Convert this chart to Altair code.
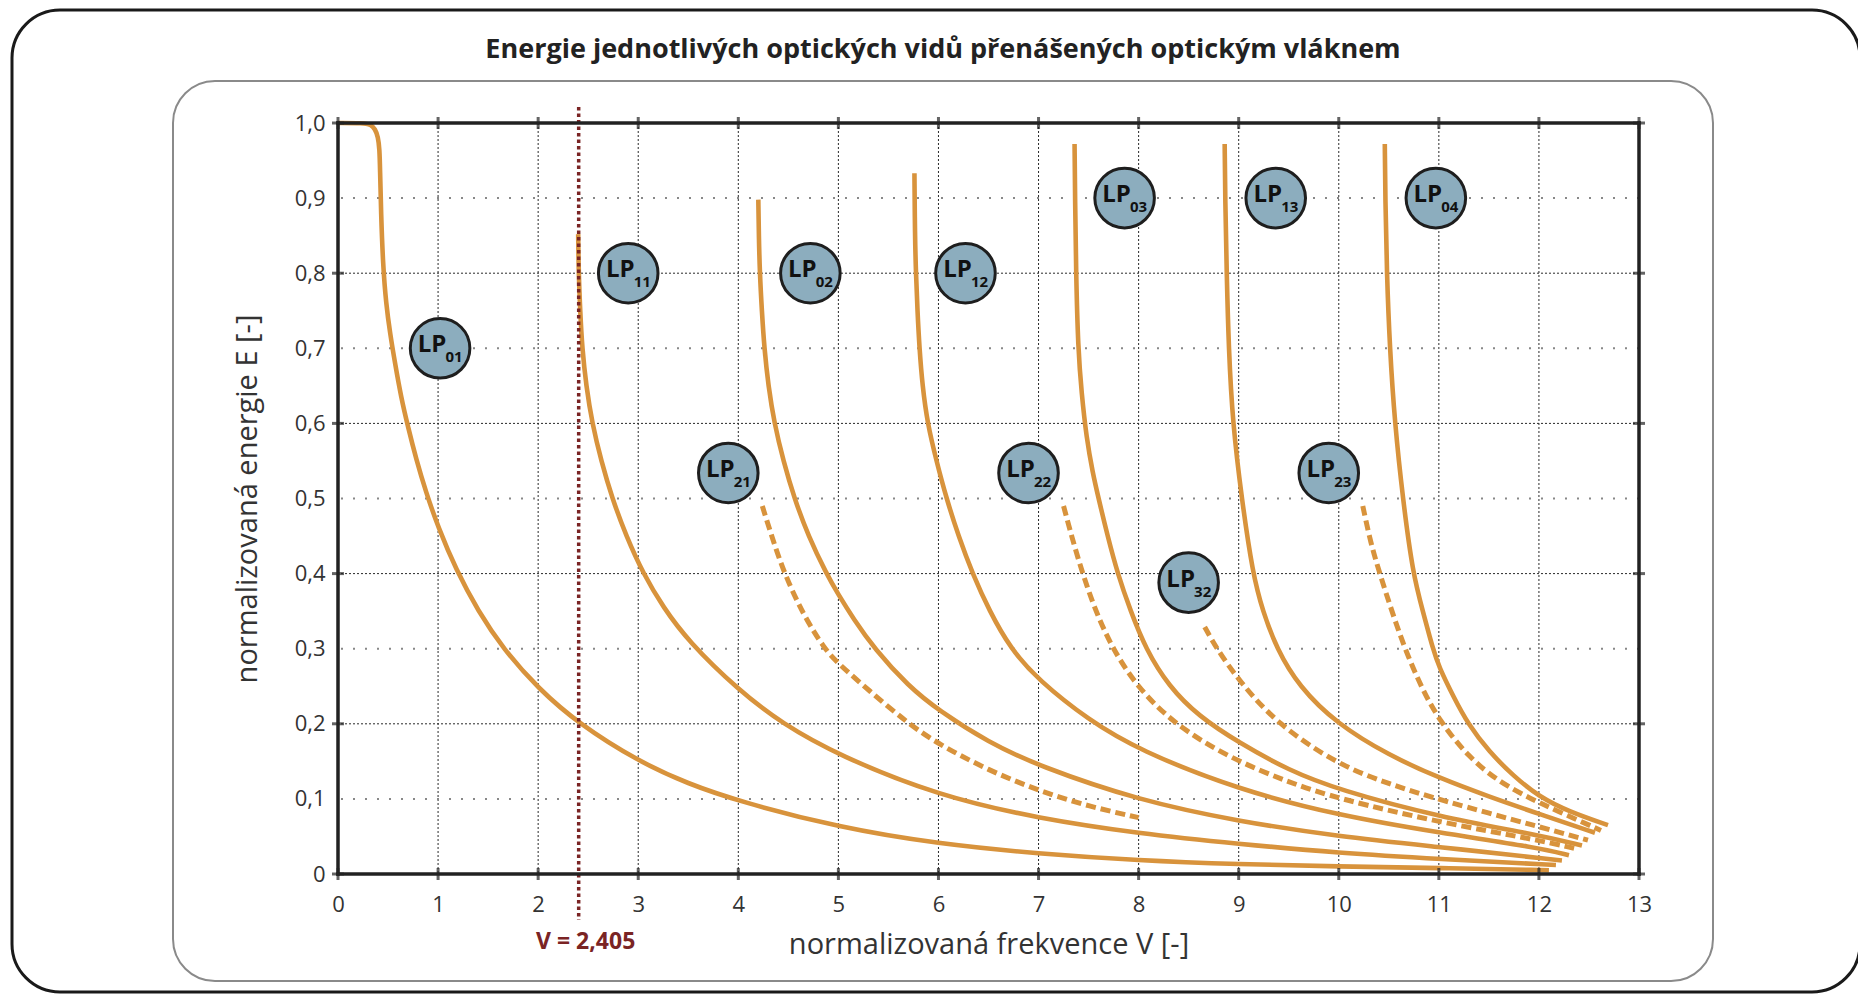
import altair as alt
import pandas as pd

# ---------------- data ----------------
TITLE = "Energie jednotlivých optických vidů přenášených optickým vláknem"
X_TITLE = "normalizovaná frekvence V [-]"
Y_TITLE = "normalizovaná energie E [-]"

x_ticks = list(range(0, 14))
y_ticks = [0.0, 0.1, 0.2, 0.3, 0.4, 0.5, 0.6, 0.7, 0.8, 0.9, 1.0]
y_major = [0.0, 0.2, 0.4, 0.6, 0.8, 1.0]
grid_x = list(range(1, 13))
grid_y_dense = [0.2, 0.4, 0.6, 0.8]
grid_y_sparse = [0.1, 0.3, 0.5, 0.7, 0.9]

v_cut = 2.405
v_label = "V = 2,405"

# solid curves
lp01_x = [0, 0.25, 0.33, 0.37, 0.40, 0.415, 0.42, 0.43, 0.45, 0.48, 0.52, 0.57, 0.63, 0.70, 0.78, 0.88, 1.0, 1.18, 1.4, 1.65, 2.0, 2.405, 3.0, 3.5, 4.0, 5.0, 6.0, 7.0, 8.0, 9.0, 10.0, 11.0, 12.1]
lp01_y = [1.0, 1.0, 0.998, 0.992, 0.982, 0.965, 0.94, 0.88, 0.81, 0.76, 0.72, 0.68, 0.635, 0.595, 0.553, 0.508, 0.462, 0.405, 0.35, 0.30, 0.247, 0.20, 0.15, 0.12, 0.097, 0.062, 0.04, 0.027, 0.018, 0.013, 0.01, 0.008, 0.005]

lp11_x = [2.40, 2.405, 2.42, 2.44, 2.48, 2.54, 2.63, 2.74, 2.88, 3.05, 3.25, 3.5, 4.0, 4.44, 5.0, 6.0, 7.0, 8.0, 9.0, 10.0, 11.0, 12.17]
lp11_y = [0.852, 0.80, 0.75, 0.70, 0.65, 0.60, 0.55, 0.50, 0.45, 0.40, 0.355, 0.31, 0.245, 0.20, 0.158, 0.104, 0.074, 0.054, 0.04, 0.028, 0.02, 0.012]

lp02_x = [4.20, 4.205, 4.215, 4.235, 4.26, 4.30, 4.36, 4.45, 4.56, 4.70, 4.88, 5.0, 5.15, 5.36, 5.7, 6.0, 6.5, 7.0, 8.0, 9.0, 10.0, 11.0, 12.23]
lp02_y = [0.898, 0.85, 0.80, 0.75, 0.70, 0.65, 0.60, 0.55, 0.50, 0.45, 0.40, 0.372, 0.34, 0.30, 0.25, 0.218, 0.175, 0.144, 0.098, 0.07, 0.05, 0.036, 0.018]

lp12_x = [5.76, 5.765, 5.775, 5.79, 5.81, 5.84, 5.89, 5.98, 6.08, 6.20, 6.34, 6.51, 6.72, 7.0, 7.5, 8.0, 9.0, 10.0, 11.0, 12.0, 12.30]
lp12_y = [0.933, 0.85, 0.80, 0.75, 0.70, 0.65, 0.60, 0.55, 0.50, 0.45, 0.40, 0.35, 0.30, 0.258, 0.205, 0.165, 0.112, 0.078, 0.055, 0.035, 0.025]

lp03_x = [7.36, 7.365, 7.375, 7.395, 7.43, 7.48, 7.54, 7.60, 7.69, 7.79, 7.92, 8.07, 8.3, 8.6, 9.0, 9.5, 10.0, 11.0, 12.0, 12.43]
lp03_y = [0.972, 0.90, 0.80, 0.70, 0.64, 0.58, 0.535, 0.50, 0.45, 0.40, 0.35, 0.30, 0.25, 0.21, 0.175, 0.138, 0.112, 0.076, 0.052, 0.038]

lp13_x = [8.86, 8.865, 8.88, 8.90, 8.94, 9.03, 9.14, 9.24, 9.38, 9.6, 9.98, 10.5, 11.0, 11.5, 12.0, 12.56]
lp13_y = [0.972, 0.90, 0.80, 0.70, 0.60, 0.50, 0.40, 0.35, 0.30, 0.25, 0.20, 0.158, 0.128, 0.103, 0.08, 0.055]

lp04_x = [10.46, 10.465, 10.48, 10.51, 10.56, 10.64, 10.74, 10.84, 10.94, 11.0, 11.15, 11.29, 11.5, 11.75, 12.0, 12.3, 12.69]
lp04_y = [0.972, 0.90, 0.80, 0.70, 0.60, 0.50, 0.40, 0.35, 0.30, 0.276, 0.235, 0.20, 0.163, 0.13, 0.103, 0.083, 0.065]

# dashed curves
lp21_x = [4.24, 4.34, 4.46, 4.65, 4.86, 5.0, 5.3, 5.7, 6.0, 6.5, 7.0, 7.5, 8.0]
lp21_y = [0.49, 0.447, 0.40, 0.345, 0.30, 0.28, 0.245, 0.20, 0.173, 0.138, 0.111, 0.09, 0.075]

lp22_x = [7.25, 7.33, 7.44, 7.57, 7.74, 7.98, 8.35, 8.9, 9.5, 10.0, 11.0, 12.0, 12.36]
lp22_y = [0.49, 0.45, 0.40, 0.35, 0.30, 0.25, 0.20, 0.155, 0.122, 0.10, 0.069, 0.045, 0.034]

lp32_x = [8.66, 8.78, 9.0, 9.38, 10.0, 10.5, 11.0, 12.0, 12.49]
lp32_y = [0.329, 0.30, 0.258, 0.20, 0.145, 0.12, 0.099, 0.063, 0.045]

lp23_x = [10.24, 10.32, 10.41, 10.53, 10.66, 10.82, 11.0, 11.3, 11.6, 11.92, 12.2, 12.62]
lp23_y = [0.49, 0.44, 0.40, 0.35, 0.30, 0.25, 0.205, 0.155, 0.123, 0.10, 0.083, 0.058]

solid_modes = {"LP01": (lp01_x, lp01_y), "LP11": (lp11_x, lp11_y), "LP02": (lp02_x, lp02_y),
               "LP12": (lp12_x, lp12_y), "LP03": (lp03_x, lp03_y), "LP13": (lp13_x, lp13_y),
               "LP04": (lp04_x, lp04_y)}
dashed_modes = {"LP21": (lp21_x, lp21_y), "LP22": (lp22_x, lp22_y),
                "LP32": (lp32_x, lp32_y), "LP23": (lp23_x, lp23_y)}

# mode labels
label_sub = ["01", "11", "02", "12", "03", "13", "04", "21", "22", "23", "32"]
label_x = [1.02, 2.90, 4.72, 6.27, 7.86, 9.37, 10.97, 3.90, 6.90, 9.90, 8.50]
label_y = [0.70, 0.80, 0.80, 0.80, 0.90, 0.90, 0.90, 0.534, 0.534, 0.534, 0.388]

# ---------------- build tables ----------------
def curves_df(modes):
    rows = []
    for name, (xs_, ys_) in modes.items():
        for i, (a, b) in enumerate(zip(xs_, ys_)):
            rows.append({"mode": name, "i": i, "x": a, "y": b})
    return pd.DataFrame(rows)

solid_df = curves_df(solid_modes)
dashed_df = curves_df(dashed_modes)
labels_df = pd.DataFrame({"x": label_x, "y": label_y, "sub": label_sub})
xtick_df = pd.DataFrame([{"x": a, "y": b} for a in x_ticks for b in [0.0, 1.0]])
ytick_df = pd.DataFrame([{"x": a, "y": b} for a in [0, 13] for b in y_major])
gx_df = pd.DataFrame({"x": grid_x})
gyd_df = pd.DataFrame({"y": grid_y_dense})
gys_df = pd.DataFrame({"y": grid_y_sparse})
edge_x_df = pd.DataFrame({"x": [0, 13]})
edge_y_df = pd.DataFrame({"y": [0.0, 1.0]})
vline_df = pd.DataFrame({"x": [v_cut], "t": [v_label]})
one_df = pd.DataFrame({"t": [TITLE]})

W, H = 1301, 751
ORANGE = "#d8933c"
FONT = "Open Sans"
MAROON = "#7a2424"

xs = alt.Scale(domain=[0, 13], nice=False, zero=False)
ys = alt.Scale(domain=[0, 1], nice=False, zero=False)

xaxis = alt.Axis(values=x_ticks, format="d", title=X_TITLE, grid=False, domain=False, ticks=False,
                 labelFont=FONT, labelFontSize=22, labelColor="#333", labelPadding=30,
                 labelBaseline="middle", labelFlush=False, labelOverlap=False,
                 titleFont=FONT, titleFontSize=29, titleFontWeight="normal", titleColor="#333",
                 titleX=650.5, titleY=70, titleBaseline="middle", titleAlign="center")
yaxis = alt.Axis(values=y_ticks, title=Y_TITLE, grid=False, domain=False, ticks=False,
                 labelExpr="datum.value == 0 ? '0' : replace(format(datum.value, '.1f'), '.', ',')",
                 labelFont=FONT, labelFontSize=22, labelColor="#333", labelPadding=13,
                 labelBaseline="middle", labelFlush=False, labelOverlap=False,
                 titleFont=FONT, titleFontSize=29, titleFontWeight="normal", titleColor="#333",
                 titleX=-91, titleY=375.5, titleAngle=270, titleBaseline="middle", titleAlign="center")

X = lambda f="x": alt.X(f"{f}:Q", scale=xs, axis=xaxis)
Y = lambda f="y": alt.Y(f"{f}:Q", scale=ys, axis=yaxis)

outer = alt.Chart(one_df).mark_rect(fill="white", fillOpacity=0, stroke="#1a1a1a", strokeWidth=3,
                                    cornerRadius=48).encode(
    x=alt.value(-326), x2=alt.value(1522), y=alt.value(-113), y2=alt.value(869))
inner = alt.Chart(one_df).mark_rect(fill="white", fillOpacity=0, stroke="#8a8a8a", strokeWidth=2,
                                    cornerRadius=42).encode(
    x=alt.value(-165), x2=alt.value(1375), y=alt.value(-42), y2=alt.value(858))

title = alt.Chart(one_df).mark_text(font=FONT, fontWeight="bold", fontSize=27, color="#222",
                                    align="center", baseline="middle").encode(
    x=alt.value(605), y=alt.value(-73), text="t:N")

gx = alt.Chart(gx_df).mark_rule(color="#2a2a2a", strokeWidth=1, strokeDash=[2, 2]).encode(x=X())
gyd = alt.Chart(gyd_df).mark_rule(color="#2a2a2a", strokeWidth=1, strokeDash=[2, 2]).encode(y=Y())
gys = alt.Chart(gys_df).mark_rule(color="#888", strokeWidth=2, strokeDash=[2, 10]).encode(y=Y())

solid = alt.Chart(solid_df).mark_line(color=ORANGE, strokeWidth=4.6, interpolate="basis").encode(
    x=X(), y=Y(), detail="mode:N", order="i:Q")
dashed = alt.Chart(dashed_df).mark_line(color=ORANGE, strokeWidth=5, strokeDash=[10, 5],
                                        interpolate="basis").encode(
    x=X(), y=Y(), detail="mode:N", order="i:Q")

vline = alt.Chart(vline_df).mark_rule(color=MAROON, strokeWidth=3.5, strokeDash=[3.5, 3]).encode(
    x=X(), y=alt.value(-16), y2=alt.value(797))
vtext = alt.Chart(vline_df).mark_text(font=FONT, fontWeight="bold", fontSize=23, color=MAROON,
                                      align="center", baseline="middle", dx=7).encode(
    x=X(), y=alt.value(819), text="t:N")

edge_x = alt.Chart(edge_x_df).mark_rule(color="#222", strokeWidth=3.5, strokeCap="square").encode(x=X())
edge_y = alt.Chart(edge_y_df).mark_rule(color="#222", strokeWidth=3.5, strokeCap="square").encode(y=Y())

xt = alt.Chart(xtick_df).mark_tick(orient="vertical", size=12, thickness=3, color="#222").encode(x=X(), y=Y())
yt = alt.Chart(ytick_df).mark_tick(orient="horizontal", size=12, thickness=3, color="#222").encode(x=X(), y=Y())

circles = alt.Chart(labels_df).mark_point(shape="circle", size=3550, filled=True, fill="#8cadbe",
                                          stroke="#1e1e1e", strokeWidth=3, opacity=1).encode(x=X(), y=Y())
lp = alt.Chart(labels_df).mark_text(text="LP", font=FONT, fontWeight="bold", fontSize=24, color="#111",
                                    align="center", baseline="middle", dx=-8, dy=-3).encode(x=X(), y=Y())
sub = alt.Chart(labels_df).mark_text(font=FONT, fontWeight="bold", fontSize=15, color="#111",
                                     align="center", baseline="middle", dx=14, dy=9).encode(
    x=X(), y=Y(), text="sub:N")

chart = alt.layer(outer, inner, title, gx, gyd, gys, solid, dashed, vline, vtext,
                  edge_x, edge_y, xt, yt, circles, lp, sub).properties(
    width=W, height=H,
    autosize=alt.AutoSizeParams(type="none"),
    padding={"left": 330, "top": 115, "right": 219, "bottom": 120},
    background="white",
).configure_view(strokeWidth=0)

chart.save("out.html", embed_options={"renderer": "svg", "actions": False})
